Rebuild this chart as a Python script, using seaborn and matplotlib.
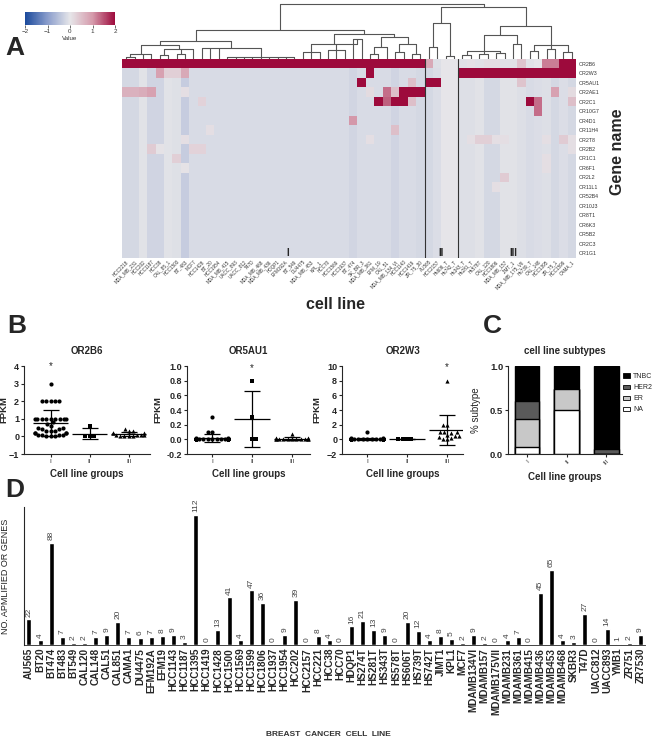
import numpy as np
import pandas as pd
import matplotlib
matplotlib.use("Agg")
import matplotlib.pyplot as plt
import seaborn as sns
from matplotlib.colors import LinearSegmentedColormap
from matplotlib.patches import Patch

# ---------------- Panel A: heatmap data ----------------
genes = ["OR2B6", "OR2W3", "OR5AU1", "OR2AE1", "OR2C1", "OR10G7", "OR4D1", "OR11H4",
         "OR2T8", "OR2B2", "OR1C1", "OR6F1", "OR2L2", "OR11L1", "OR52B4", "OR10J3",
         "OR8T1", "OR6K3", "OR5B2", "OR2C3", "OR1G1"]

heat_lines = ["HCC2218", "MDA_MB_231", "HCC202", "HCC1187", "HCC38", "CAL_85_1", "HCC1500",
              "BT_483", "MCF7", "HCC1428", "BT_20", "HCC1954", "MDA_MB_415", "UACC_893",
              "UACC_812", "T47D", "MDA_MB_468", "MDA_MB_436", "HDQP1", "EFM192A", "BT_549",
              "DU4475", "MDA_MB_453", "KPL_1", "HCC70", "HCC1569", "HCC1937", "BT_474",
              "SK_BR_3", "MDA_MB_361", "EFM_19", "CAL_51", "MDA_MB_134_VI", "HCC1143",
              "HCC1419", "ZR_75_30",
              "AU565", "HCC2157", "Hs606_T", "Hs742_T",
              "Hs343_T", "Hs281_T", "Hs578T", "CAL_120", "HCC1806", "MDA_MB_157", "JIMT_1",
              "MDA_MB_175_VII", "Hs739_T", "CAL_148", "HCC1395", "ZR_75_1", "HCC1599", "CAMA_1"]
group_sizes = [36, 4, 14]

# background level of each column (most cells)
col_base = [-0.2, -0.2, -0.05, -0.25, -0.25, -0.05, -0.08, -0.35, -0.15, -0.15,
            -0.15, -0.15, -0.15, -0.15, -0.15, -0.15, -0.15, -0.15, -0.15, -0.15,
            -0.15, -0.15, -0.15, -0.15, -0.15, -0.15, -0.15, -0.22, -0.15, -0.15,
            -0.15, -0.15, -0.25, -0.15, -0.15, -0.2,
            -0.2, -0.12, 0.0, 0.0,
            -0.1, -0.1, -0.05, -0.2, -0.2, -0.05, -0.05, -0.1, -0.15, -0.12,
            -0.1, -0.2, -0.12, -0.2]

or2b6_row = [2.0, 2.0, 2.0, 2.0, 2.0, 2.0, 2.0, 2.0, 2.0, 2.0, 2.0, 2.0, 2.0, 2.0, 2.0,
             2.0, 2.0, 2.0, 2.0, 2.0, 2.0, 2.0, 2.0, 2.0, 2.0, 2.0, 2.0, 2.0, 2.0, 2.0,
             2.0, 2.0, 2.0, 2.0, 2.0, 2.0,
             0.8, -0.1, 0.0, 0.0,
             -0.05, 0.05, -0.05, 0.1, 0.1, -0.05, -0.05, 0.45, -0.05, 0.0,
             1.2, 1.2, 2.0, 2.0]

or2w3_row = [-0.2, -0.2, -0.05, -0.25, 0.9, 0.3, 0.3, 0.8, -0.15, -0.15,
             -0.15, -0.15, -0.15, -0.15, -0.15, -0.15, -0.15, -0.15, -0.15, -0.15,
             -0.15, -0.15, -0.15, -0.15, -0.15, -0.15, -0.15, -0.22, -0.15, 2.0,
             -0.15, -0.15, -0.25, -0.15, -0.15, -0.2,
             -0.2, -0.12, 0.0, 0.0,
             2.0, 2.0, 2.0, 2.0, 2.0, 2.0, 2.0, 2.0, 2.0, 2.0, 2.0, 2.0, 2.0, 2.0]

hot_cells = [
    ("OR5AU1", "SK_BR_3", 2.0), ("OR5AU1", "HCC1419", 0.5), ("OR5AU1", "AU565", 2.0),
    ("OR5AU1", "HCC2157", 2.0), ("OR5AU1", "MDA_MB_175_VII", 0.45),
    ("OR2AE1", "HCC2218", 0.7), ("OR2AE1", "MDA_MB_231", 0.7), ("OR2AE1", "HCC202", 0.75),
    ("OR2AE1", "HCC1187", 0.9), ("OR2AE1", "BT_483", 0.1), ("OR2AE1", "MDA_MB_361", 0.15),
    ("OR2AE1", "CAL_51", 1.3), ("OR2AE1", "MDA_MB_134_VI", 0.5), ("OR2AE1", "HCC1143", 2.0),
    ("OR2AE1", "HCC1419", 2.0), ("OR2AE1", "ZR_75_30", 2.0), ("OR2AE1", "ZR_75_1", 0.9),
    ("OR2AE1", "CAMA_1", 0.15),
    ("OR2C1", "HCC1428", 0.25), ("OR2C1", "EFM_19", 2.0), ("OR2C1", "CAL_51", 1.4),
    ("OR2C1", "MDA_MB_134_VI", 2.0), ("OR2C1", "HCC1143", 2.0), ("OR2C1", "HCC1419", 0.5),
    ("OR2C1", "Hs739_T", 2.0), ("OR2C1", "CAL_148", 1.3), ("OR2C1", "CAMA_1", 0.5),
    ("OR10G7", "CAL_148", 1.3),
    ("OR4D1", "BT_474", 1.0),
    ("OR11H4", "BT_20", 0.1), ("OR11H4", "MDA_MB_134_VI", 0.5),
    ("OR2T8", "BT_483", 0.1), ("OR2T8", "MDA_MB_361", 0.1), ("OR2T8", "Hs281_T", 0.1),
    ("OR2T8", "Hs578T", 0.3), ("OR2T8", "CAL_120", 0.3), ("OR2T8", "HCC1806", 0.1),
    ("OR2T8", "MDA_MB_157", 0.1), ("OR2T8", "HCC1395", 0.1), ("OR2T8", "HCC1599", 0.35),
    ("OR2T8", "CAMA_1", 0.1),
    ("OR2B2", "HCC1187", 0.35), ("OR2B2", "HCC38", 0.05), ("OR2B2", "MCF7", 0.25),
    ("OR2B2", "HCC1428", 0.25), ("OR2B2", "CAMA_1", 0.1),
    ("OR1C1", "HCC1500", 0.3), ("OR1C1", "HCC1395", 0.1),
    ("OR6F1", "BT_483", 0.05), ("OR6F1", "HCC1395", 0.1),
    ("OR2L2", "MDA_MB_157", 0.35),
    ("OR11L1", "HCC1806", 0.1),
]

# column dendrogram: [height, child, child, ...]; ints are leaf (column) numbers
tree_I = [0.52,
          [0.33,
           [0.26, [0.1, [0.04, 0, 1], 2, 3], [0.18, [0.07, 4, 5], [0.09, 6, 7], 8]],
           [0.2, 9, 10, 11, [0.03, 12, 13, 14, 15, 16, 17, 18, 19, 20]]],
          [0.45,
           [0.27, [0.12, 21, 22, 23], [0.17, 24, 25, 26], [0.36, 27, 28]],
           [0.4, [0.22, [0.1, 29, 30], 31], [0.28, [0.13, 32, 33], [0.09, 34, 35]]]]]
tree_II = [0.66, [0.22, 36, 37], [0.05, 38, 39]]
tree_III = [0.6,
            [0.43, [0.14, [0.07, 40, 41], [0.09, 42, 43], [0.11, 44, 45]], [0.28, 46, 47]],
            [0.26, [0.15, 48, 49], [0.19, 50, 51], [0.13, 52, 53]]]
col_tree = [1.0, tree_I, [0.95, tree_II, tree_III]]

# ---------------- Panel B: FPKM per group ----------------
groups = ["I", "II", "III"]
or2b6_fpkm = {
    "I": [3, 2, 2, 2, 2, 2, 1, 1, 1, 1, 1, 1, 1, 1, 1, 0.8, 0.7, 0.6, 0.5, 0.5, 0.4, 0.4,
          0.3, 0.3, 0.3, 0.2, 0.2, 0.2, 0.2, 0.1, 0.1, 0.1, 0.1, 0, 0, 0],
    "II": [0.6, 0, 0, 0],
    "III": [0.4, 0.3, 0.3, 0.2, 0.2, 0.2, 0.1, 0.1, 0.1, 0.1, 0, 0, 0, 0],
}
or5au1_fpkm = {
    "I": [0.3, 0.1, 0.1, 0.02, 0.02, 0.01, 0.01, 0.01, 0, 0, 0, 0, 0, 0, 0, 0, 0, 0,
          0, 0, 0, 0, 0, 0, 0, 0, 0, 0, 0, 0, 0, 0, 0, 0, 0, 0],
    "II": [0.8, 0.3, 0, 0],
    "III": [0.07, 0.02, 0.02, 0.01, 0.01, 0, 0, 0, 0, 0, 0, 0, 0, 0],
}
or2w3_fpkm = {
    "I": [1.0, 0.2, 0.2, 0.1, 0.1, 0.1, 0.1, 0.1, 0.1, 0.1, 0.1, 0.1, 0.1, 0, 0, 0, 0, 0,
          0, 0, 0, 0, 0, 0, 0, 0, 0, 0, 0, 0, 0, 0, 0, 0, 0, 0],
    "II": [0, 0, 0, 0],
    "III": [8, 2, 2, 1, 1, 1, 0.8, 0.6, 0.5, 0.5, 0.3, 0.2, 0.1, 0],
}
b_titles = ["OR2B6", "OR5AU1", "OR2W3"]
b_data = [or2b6_fpkm, or5au1_fpkm, or2w3_fpkm]
b_ylims = [(-1, 4), (-0.2, 1.0), (-2, 10)]
b_yticks = [[-1, 0, 1, 2, 3, 4], [-0.2, 0.0, 0.2, 0.4, 0.6, 0.8, 1.0], [-2, 0, 2, 4, 6, 8, 10]]
b_star = [("I", 4.0), ("II", 0.97), ("III", 9.8)]

# ---------------- Panel C: subtype fractions ----------------
subtypes = ["TNBC", "HER2", "ER", "NA"]
frac_tnbc = [0.40, 0.26, 0.94]
frac_her2 = [0.20, 0.00, 0.06]
frac_er = [0.32, 0.24, 0.00]
frac_na = [0.08, 0.50, 0.00]
subtype_colors = ["#000000", "#5a5a5a", "#c8c8c8", "#ffffff"]

# ---------------- Panel D: amplified OR genes ----------------
d_lines = ["AU565", "BT20", "BT474", "BT483", "BT549", "CAL120", "CAL148", "CAL51", "CAL851",
           "CAMA1", "DU4475", "EFM192A", "EFM19", "HCC1143", "HCC1187", "HCC1395", "HCC1419",
           "HCC1428", "HCC1500", "HCC1569", "HCC1599", "HCC1806", "HCC1937", "HCC1954",
           "HCC202", "HCC2157", "HCC221", "HCC38", "HCC70", "HDQP1", "HS274T", "HS281T",
           "HS343T", "HS578T", "HS606T", "HS739T", "HS742T", "JIMT1", "KPL1", "MCF7",
           "MDAMB134VI", "MDAMB157", "MDAMB175VII", "MDAMB231", "MDAMB361", "MDAMB415",
           "MDAMB436", "MDAMB453", "MDAMB468", "SKBR3", "T47D", "UACC812", "UACC893", "YMB1",
           "ZR751", "ZR7530"]
d_counts = [22, 4, 88, 7, 2, 2, 7, 9, 20, 7, 6, 7, 8, 9, 3, 112, 0, 13, 41, 4, 47, 36, 0, 9,
            39, 0, 8, 4, 0, 16, 21, 13, 9, 0, 20, 12, 4, 8, 5, 2, 9, 2, 0, 4, 7, 0, 45, 65, 4,
            3, 27, 0, 14, 1, 2, 9]

# ================= drawing =================
sns.set_style("ticks")
plt.rcParams["font.family"] = ["Liberation Sans", "DejaVu Sans"]
plt.rcParams["axes.linewidth"] = 0.8

W, H = 658, 739


def box(x0, y0, x1, y1):
    return [x0 / W, 1 - y1 / H, (x1 - x0) / W, (y1 - y0) / H]


fig = plt.figure(figsize=(W / 100, H / 100), dpi=100)

# ---- A ----
mat = np.tile(np.array(col_base, dtype=float), (len(genes), 1))
mat[0] = or2b6_row
mat[1] = or2w3_row
hm = pd.DataFrame(mat, index=genes, columns=heat_lines)
for g, c, v in hot_cells:
    hm.loc[g, c] = v

cmap = LinearSegmentedColormap.from_list(
    "bwr_grey", [(0.0, "#1b4a9c"), (0.25, "#8a9dcc"), (0.5, "#e6e6e9"),
                 (0.75, "#d59aab"), (1.0, "#9d0a3c")])

cax = fig.add_axes(box(25, 12, 115, 25))
ax_hm = fig.add_axes(box(122, 59, 576, 258))
sns.heatmap(hm, cmap=cmap, vmin=-2, vmax=2, ax=ax_hm, cbar_ax=cax,
            cbar_kws={"orientation": "horizontal", "ticks": [-2, -1, 0, 1, 2]},
            xticklabels=True, yticklabels=True)
cbar = ax_hm.collections[0].colorbar
cbar.outline.set_visible(False)
cax.tick_params(labelsize=4.5, length=2, width=0.5, pad=1, colors="#333333")
cax.set_xlabel("Value", fontsize=4.5, labelpad=1, color="#333333")

ax_hm.yaxis.tick_right()
ax_hm.tick_params(axis="y", length=0, labelsize=3.8, pad=2, labelcolor="#333333")
plt.setp(ax_hm.get_yticklabels(), rotation=0)
ax_hm.tick_params(axis="x", length=0, labelsize=3.3, pad=1, labelcolor="#333333")
plt.setp(ax_hm.get_xticklabels(), rotation=45, ha="right", rotation_mode="anchor")
ax_hm.set_xlabel("")
ax_hm.set_ylabel("")
edges = np.cumsum(group_sizes)[:-1]
for e in edges:
    ax_hm.axvline(e, color="#333333", lw=0.8)
for gname, xpos in zip(groups, [19.7, 38.0, 46.6]):
    ax_hm.text(xpos, 20.5, gname, ha="center", va="center", fontsize=7, weight="bold")

ax_dn = fig.add_axes(box(122, 3, 576, 59))


def draw_tree(ax, node):
    if isinstance(node, int):
        return node + 0.5, 0.0
    h, *kids = node
    pts = [draw_tree(ax, k) for k in kids]
    xs = [p[0] for p in pts]
    for x, y in pts:
        ax.plot([x, x], [y, h], color="#555555", lw=0.8)
    ax.plot([min(xs), max(xs)], [h, h], color="#555555", lw=0.8)
    return (min(xs) + max(xs)) / 2, h


draw_tree(ax_dn, col_tree)
ax_dn.set_xlim(0, len(heat_lines))
ax_dn.set_ylim(0, 1.02)
ax_dn.axis("off")

fig.text(618 / W, 1 - 152 / H, "Gene name", rotation=90, fontsize=11.5, weight="bold",
         ha="center", va="center")
fig.text(335 / W, 1 - 305 / H, "cell line", fontsize=11.5, weight="bold",
         ha="center", va="center")

# ---- B ----
b_boxes = [box(24, 366, 150, 454), box(187, 366, 310, 454), box(342, 366, 463, 454)]
b_xlims = [(-0.68, 2.55), (-0.63, 2.45), (-0.63, 2.4)]
b_label_x = [-0.125, -0.2, -0.17]
markers = {"I": "o", "II": "s", "III": "^"}
for k in range(3):
    ax = fig.add_axes(b_boxes[k])
    data = b_data[k]
    for i, g in enumerate(groups):
        vals = data[g]
        sns.swarmplot(x=[g] * len(vals), y=vals, order=groups, marker=markers[g],
                      color="k", size=3.0, ax=ax, warn_thresh=1)
        m = np.mean(vals)
        sd = np.std(vals, ddof=1)
        ax.hlines(m, i - 0.45, i + 0.45, color="k", lw=0.9, zorder=5)
        ax.errorbar(i, m, yerr=sd, fmt="none", ecolor="k", elinewidth=0.9,
                    capsize=5.5, capthick=0.9, zorder=5)
    sg, sy = b_star[k]
    ax.text(groups.index(sg), sy, "*", ha="center", va="center", fontsize=7)
    ax.set_xlim(*b_xlims[k])
    ax.set_ylim(*b_ylims[k])
    ax.set_yticks(b_yticks[k])
    if k == 1:
        ax.set_yticklabels([f"{t:.1f}" for t in b_yticks[k]])
    ax.set_xticks([0, 1, 2])
    ax.set_xticklabels(groups)
    ax.tick_params(axis="y", labelsize=6.5, length=2.5, width=0.8, pad=1)
    ax.tick_params(axis="x", labelsize=4.5, length=2.5, width=0.8, pad=1)
    for t in ax.get_yticklabels():
        t.set_fontweight("bold")
    ax.set_ylabel("FPKM", fontsize=6.8, weight="bold")
    ax.yaxis.set_label_coords(b_label_x[k], 0.5)
    ax.set_xlabel("Cell line groups", fontsize=7, weight="bold", labelpad=4)
    ax.set_title(b_titles[k], fontsize=7, weight="bold", pad=9)
    sns.despine(ax=ax)

# ---- C ----
axc = fig.add_axes(box(508, 366, 622, 454))
cum_na = np.array(frac_na)
cum_er = cum_na + np.array(frac_er)
cum_her2 = cum_er + np.array(frac_her2)
cum_tnbc = cum_her2 + np.array(frac_tnbc)
for cum, col in zip([cum_tnbc, cum_her2, cum_er, cum_na], subtype_colors):
    sns.barplot(x=groups, y=cum, color=col, edgecolor="k", linewidth=1.0, width=0.63,
                saturation=1, ax=axc)
axc.set_xlim(-0.48, 2.4)
axc.set_ylim(0, 1.0)
axc.set_yticks([0.0, 0.5, 1.0])
axc.set_yticklabels(["0.0", "0.5", "1.0"])
axc.tick_params(axis="y", labelsize=6.8, length=2.5, width=0.8, pad=1)
axc.tick_params(axis="x", labelsize=4.5, length=2.5, width=0.8, pad=1)
plt.setp(axc.get_xticklabels(), rotation=45, ha="right", rotation_mode="anchor")
for t in axc.get_yticklabels():
    t.set_fontweight("bold")
axc.set_ylabel("% subtype", fontsize=7)
axc.yaxis.set_label_coords(-0.24, 0.5)
axc.set_xlabel("Cell line groups", fontsize=7, weight="bold", labelpad=4)
axc.set_title("cell line subtypes", fontsize=7, weight="bold", pad=9)
sns.despine(ax=axc)
handles = [Patch(facecolor=c, edgecolor="k", linewidth=0.6) for c in subtype_colors]
axc.legend(handles, subtypes, loc="upper left", bbox_to_anchor=(0.98, 0.96), frameon=False,
           fontsize=5, handlelength=1.0, handleheight=0.55, handletextpad=0.4,
           labelspacing=0.6, borderaxespad=0.1)

# ---- D ----
axd = fig.add_axes(box(24, 507, 645, 645))
sns.barplot(x=d_lines, y=d_counts, color="k", width=0.45, saturation=1, ax=axd)
axd.bar_label(axd.containers[0], labels=[str(v) for v in d_counts], rotation=90,
              fontsize=6, padding=2, color="#444444")
axd.set_xlim(-0.44, len(d_lines) - 0.6)
axd.set_ylim(0, 119)
axd.set_yticks([])
axd.tick_params(axis="x", labelsize=7.2, length=0, pad=2, rotation=90)
for t in axd.get_xticklabels():
    t.set_fontweight("bold")
axd.set_ylabel("NO. APMLIFIED OR GENES", fontsize=6.5, color="#222222")
axd.yaxis.set_label_coords(-0.022, 0.5)
axd.set_xlabel("")
sns.despine(ax=axd)
axd.spines["bottom"].set_linewidth(0.6)
fig.text(328 / W, 1 - 735 / H, "BREAST  CANCER  CELL  LINE", fontsize=6, weight="bold",
         color="#333333", ha="center", va="center")

# ---- panel letters ----
for letter, x, y in [("A", 5, 55), ("B", 7, 333), ("C", 483, 333), ("D", 5, 497)]:
    fig.text(x / W, 1 - y / H, letter, fontsize=19, weight="bold", va="baseline")

fig.savefig("out.png", dpi=100)
